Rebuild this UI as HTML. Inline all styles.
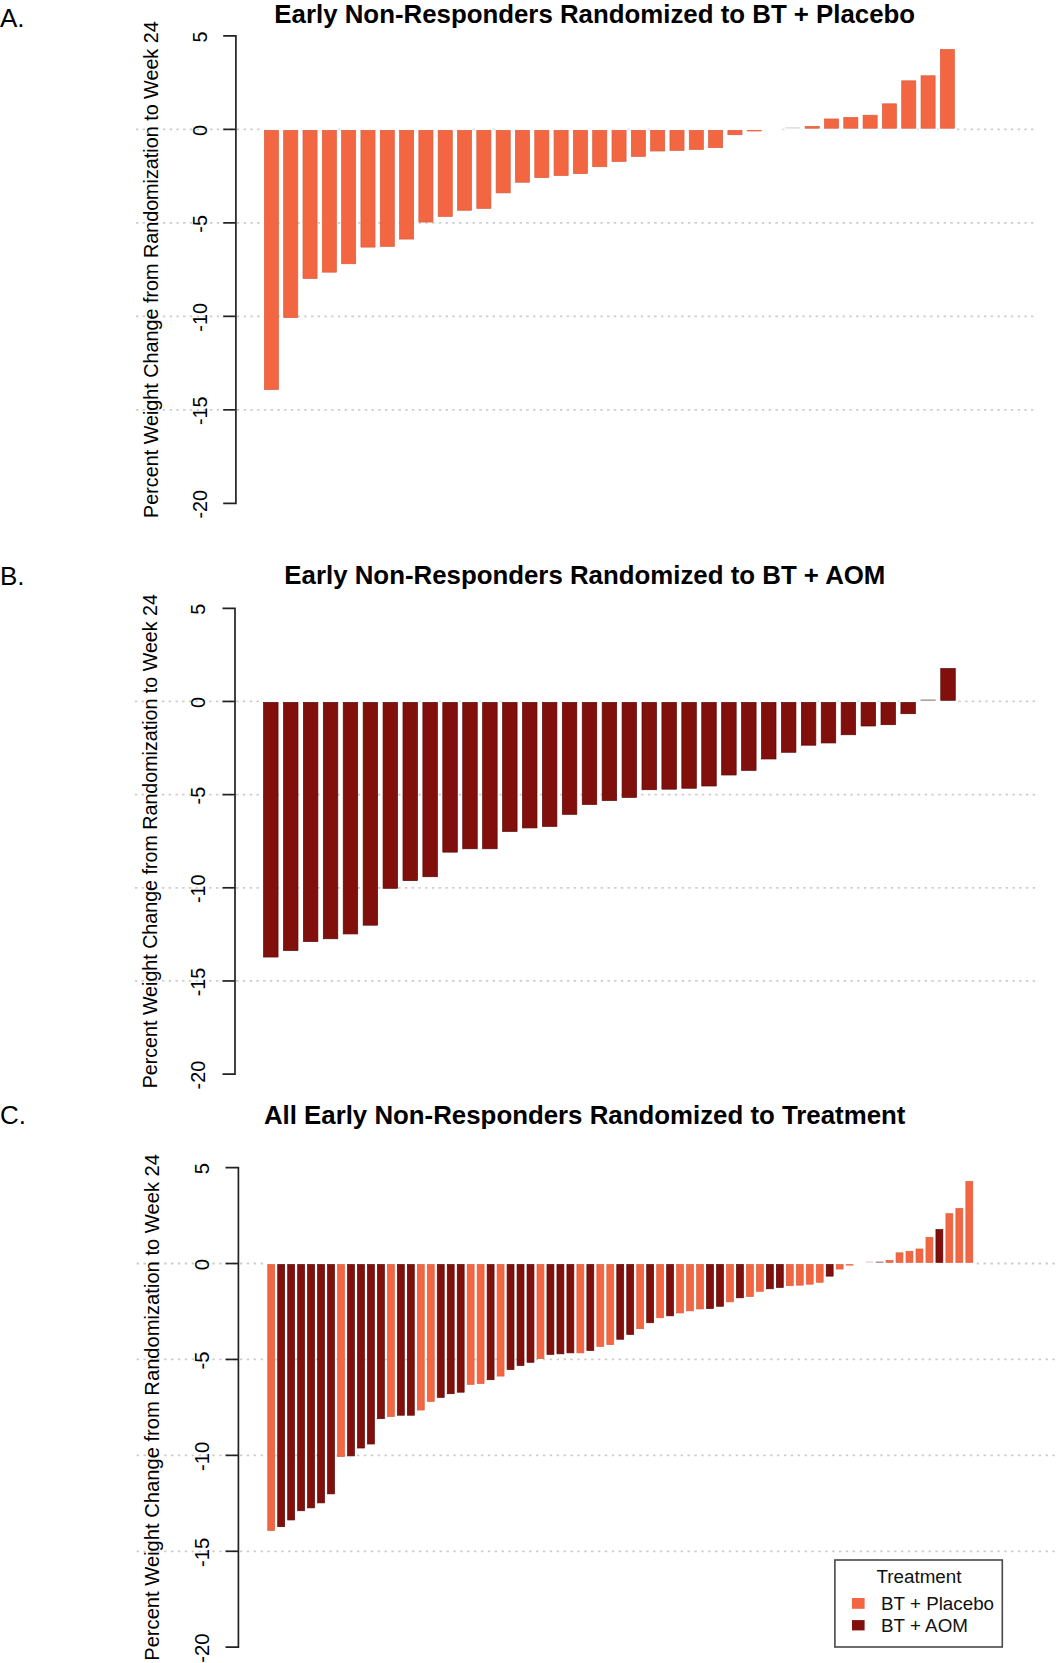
<!DOCTYPE html>
<html><head><meta charset="utf-8"><style>
html,body{margin:0;padding:0;background:#fff;}
svg{display:block;}
text{font-family:"Liberation Sans",sans-serif;fill:#000;}
.title{font-weight:bold;font-size:25.84px;}
.plabel{font-size:26px;}
.tl{font-size:19.8px;}
.yl{font-size:19.75px;}
.leg{font-size:18.8px;fill:#111;}
.grid{stroke:#cdcdcd;stroke-width:1.8;fill:none;}
.gridf{stroke:#e4e4e4;stroke-width:1.8;fill:none;}
.axis{stroke:#222;stroke-width:1.7;fill:none;}
</style></head><body>
<svg width="1057" height="1663" viewBox="0 0 1057 1663">
<rect width="1057" height="1663" fill="#fff"/>
<path d="M136.00 129.38h2.4M142.73 129.38h2.4M149.46 129.38h2.4M156.19 129.38h2.4M162.92 129.38h2.4M169.65 129.38h2.4M176.38 129.38h2.4M183.11 129.38h2.4M189.84 129.38h2.4M196.57 129.38h2.4M203.30 129.38h2.4M210.03 129.38h2.4M216.76 129.38h2.4M223.49 129.38h2.4M230.22 129.38h2.4M236.95 129.38h2.4M243.68 129.38h2.4M250.41 129.38h2.4M257.14 129.38h2.4M957.06 129.38h2.4M963.79 129.38h2.4M970.52 129.38h2.4M977.25 129.38h2.4M983.98 129.38h2.4M990.71 129.38h2.4M997.44 129.38h2.4M1004.17 129.38h2.4M1010.90 129.38h2.4M1017.63 129.38h2.4M1024.36 129.38h2.4M1031.09 129.38h2.4" class="grid"/>
<path d="M337.90 129.38h2.4M472.50 129.38h2.4M492.69 129.38h2.4M627.29 129.38h2.4M647.48 129.38h2.4M782.08 129.38h2.4M916.68 129.38h2.4M936.87 129.38h2.4" class="gridf"/>
<line x1="136.00" y1="222.86" x2="1033.49" y2="222.86" class="grid" stroke-dasharray="2.4 4.330"/>
<line x1="136.00" y1="316.34" x2="1033.49" y2="316.34" class="grid" stroke-dasharray="2.4 4.330"/>
<line x1="136.00" y1="409.82" x2="1033.49" y2="409.82" class="grid" stroke-dasharray="2.4 4.330"/>
<rect x="264.35" y="130.33" width="14.10" height="259.25" fill="#F26642" stroke="#dc5e40" stroke-width="0.7"/>
<rect x="283.66" y="130.33" width="14.10" height="187.27" fill="#F26642" stroke="#dc5e40" stroke-width="0.7"/>
<rect x="302.98" y="130.33" width="14.10" height="148.19" fill="#F26642" stroke="#dc5e40" stroke-width="0.7"/>
<rect x="322.29" y="130.33" width="14.10" height="141.84" fill="#F26642" stroke="#dc5e40" stroke-width="0.7"/>
<rect x="341.61" y="130.33" width="14.10" height="133.42" fill="#F26642" stroke="#dc5e40" stroke-width="0.7"/>
<rect x="360.92" y="130.33" width="14.10" height="116.78" fill="#F26642" stroke="#dc5e40" stroke-width="0.7"/>
<rect x="380.23" y="130.33" width="14.10" height="116.04" fill="#F26642" stroke="#dc5e40" stroke-width="0.7"/>
<rect x="399.55" y="130.33" width="14.10" height="108.75" fill="#F26642" stroke="#dc5e40" stroke-width="0.7"/>
<rect x="418.86" y="130.33" width="14.10" height="91.73" fill="#F26642" stroke="#dc5e40" stroke-width="0.7"/>
<rect x="438.18" y="130.33" width="14.10" height="86.12" fill="#F26642" stroke="#dc5e40" stroke-width="0.7"/>
<rect x="457.49" y="130.33" width="14.10" height="79.95" fill="#F26642" stroke="#dc5e40" stroke-width="0.7"/>
<rect x="476.80" y="130.33" width="14.10" height="78.08" fill="#F26642" stroke="#dc5e40" stroke-width="0.7"/>
<rect x="496.12" y="130.33" width="14.10" height="62.57" fill="#F26642" stroke="#dc5e40" stroke-width="0.7"/>
<rect x="515.43" y="130.33" width="14.10" height="51.91" fill="#F26642" stroke="#dc5e40" stroke-width="0.7"/>
<rect x="534.75" y="130.33" width="14.10" height="47.24" fill="#F26642" stroke="#dc5e40" stroke-width="0.7"/>
<rect x="554.06" y="130.33" width="14.10" height="45.18" fill="#F26642" stroke="#dc5e40" stroke-width="0.7"/>
<rect x="573.37" y="130.33" width="14.10" height="43.31" fill="#F26642" stroke="#dc5e40" stroke-width="0.7"/>
<rect x="592.69" y="130.33" width="14.10" height="36.39" fill="#F26642" stroke="#dc5e40" stroke-width="0.7"/>
<rect x="612.00" y="130.33" width="14.10" height="31.16" fill="#F26642" stroke="#dc5e40" stroke-width="0.7"/>
<rect x="631.32" y="130.33" width="14.10" height="26.11" fill="#F26642" stroke="#dc5e40" stroke-width="0.7"/>
<rect x="650.63" y="130.33" width="14.10" height="20.69" fill="#F26642" stroke="#dc5e40" stroke-width="0.7"/>
<rect x="669.94" y="130.33" width="14.10" height="20.13" fill="#F26642" stroke="#dc5e40" stroke-width="0.7"/>
<rect x="689.26" y="130.33" width="14.10" height="19.19" fill="#F26642" stroke="#dc5e40" stroke-width="0.7"/>
<rect x="708.57" y="130.33" width="14.10" height="17.32" fill="#F26642" stroke="#dc5e40" stroke-width="0.7"/>
<rect x="727.89" y="130.33" width="14.10" height="4.42" fill="#F26642" stroke="#dc5e40" stroke-width="0.7"/>
<rect x="746.85" y="129.98" width="14.80" height="1.38" fill="#F26642"/>
<rect x="785.48" y="127.38" width="14.80" height="1.1" fill="#d9cdcb"/>
<rect x="805.14" y="126.44" width="14.10" height="1.79" fill="#F26642" stroke="#dc5e40" stroke-width="0.7"/>
<rect x="824.46" y="118.96" width="14.10" height="9.27" fill="#F26642" stroke="#dc5e40" stroke-width="0.7"/>
<rect x="843.77" y="117.46" width="14.10" height="10.77" fill="#F26642" stroke="#dc5e40" stroke-width="0.7"/>
<rect x="863.08" y="115.22" width="14.10" height="13.01" fill="#F26642" stroke="#dc5e40" stroke-width="0.7"/>
<rect x="882.40" y="103.82" width="14.10" height="24.41" fill="#F26642" stroke="#dc5e40" stroke-width="0.7"/>
<rect x="901.71" y="80.82" width="14.10" height="47.41" fill="#F26642" stroke="#dc5e40" stroke-width="0.7"/>
<rect x="921.03" y="75.77" width="14.10" height="52.46" fill="#F26642" stroke="#dc5e40" stroke-width="0.7"/>
<rect x="940.34" y="49.41" width="14.10" height="78.82" fill="#F26642" stroke="#dc5e40" stroke-width="0.7"/>
<path d="M223.20 35.90H235.90V503.30H223.20" class="axis"/>
<line x1="223.20" y1="129.38" x2="235.90" y2="129.38" class="axis"/>
<line x1="223.20" y1="222.86" x2="235.90" y2="222.86" class="axis"/>
<line x1="223.20" y1="316.34" x2="235.90" y2="316.34" class="axis"/>
<line x1="223.20" y1="409.82" x2="235.90" y2="409.82" class="axis"/>
<text transform="translate(206.60,36.90) rotate(-90)" class="tl" text-anchor="middle" style="font-size:19.8px">5</text>
<text transform="translate(206.60,130.38) rotate(-90)" class="tl" text-anchor="middle" style="font-size:19.8px">0</text>
<text transform="translate(206.60,223.86) rotate(-90)" class="tl" text-anchor="middle" style="font-size:19.8px">-5</text>
<text transform="translate(206.60,317.34) rotate(-90)" class="tl" text-anchor="middle" style="font-size:19.8px">-10</text>
<text transform="translate(206.60,410.82) rotate(-90)" class="tl" text-anchor="middle" style="font-size:19.8px">-15</text>
<text transform="translate(206.60,504.30) rotate(-90)" class="tl" text-anchor="middle" style="font-size:19.8px">-20</text>
<text transform="translate(158.00,269.60) rotate(-90)" class="yl" text-anchor="middle" style="font-size:19.75px">Percent Weight Change from Randomization to Week 24</text>
<text x="274.35" y="23.00" class="title">Early Non-Responders Randomized to BT + Placebo</text>
<text x="0.00" y="27.40" class="plabel">A.</text>
<path d="M134.90 701.46h2.4M141.65 701.46h2.4M148.40 701.46h2.4M155.15 701.46h2.4M161.90 701.46h2.4M168.65 701.46h2.4M175.40 701.46h2.4M182.15 701.46h2.4M188.90 701.46h2.4M195.65 701.46h2.4M202.40 701.46h2.4M209.15 701.46h2.4M215.90 701.46h2.4M222.65 701.46h2.4M229.40 701.46h2.4M236.15 701.46h2.4M242.90 701.46h2.4M249.65 701.46h2.4M256.40 701.46h2.4M958.40 701.46h2.4M965.15 701.46h2.4M971.90 701.46h2.4M978.65 701.46h2.4M985.40 701.46h2.4M992.15 701.46h2.4M998.90 701.46h2.4M1005.65 701.46h2.4M1012.40 701.46h2.4M1019.15 701.46h2.4M1025.90 701.46h2.4M1032.65 701.46h2.4" class="grid"/>
<path d="M418.40 701.46h2.4M438.65 701.46h2.4M458.90 701.46h2.4M479.15 701.46h2.4M499.40 701.46h2.4M816.65 701.46h2.4M836.90 701.46h2.4M857.15 701.46h2.4M877.40 701.46h2.4M897.65 701.46h2.4" class="gridf"/>
<line x1="134.90" y1="794.62" x2="1035.05" y2="794.62" class="grid" stroke-dasharray="2.4 4.350"/>
<line x1="134.90" y1="887.78" x2="1035.05" y2="887.78" class="grid" stroke-dasharray="2.4 4.350"/>
<line x1="134.90" y1="980.94" x2="1035.05" y2="980.94" class="grid" stroke-dasharray="2.4 4.350"/>
<rect x="263.55" y="702.41" width="14.50" height="254.63" fill="#810F0C" stroke="#5a0907" stroke-width="0.7"/>
<rect x="283.47" y="702.41" width="14.50" height="248.11" fill="#810F0C" stroke="#5a0907" stroke-width="0.7"/>
<rect x="303.39" y="702.41" width="14.50" height="239.17" fill="#810F0C" stroke="#5a0907" stroke-width="0.7"/>
<rect x="323.30" y="702.41" width="14.50" height="236.37" fill="#810F0C" stroke="#5a0907" stroke-width="0.7"/>
<rect x="343.22" y="702.41" width="14.50" height="231.53" fill="#810F0C" stroke="#5a0907" stroke-width="0.7"/>
<rect x="363.14" y="702.41" width="14.50" height="222.77" fill="#810F0C" stroke="#5a0907" stroke-width="0.7"/>
<rect x="383.06" y="702.41" width="14.50" height="185.88" fill="#810F0C" stroke="#5a0907" stroke-width="0.7"/>
<rect x="402.98" y="702.41" width="14.50" height="178.24" fill="#810F0C" stroke="#5a0907" stroke-width="0.7"/>
<rect x="422.89" y="702.41" width="14.50" height="174.33" fill="#810F0C" stroke="#5a0907" stroke-width="0.7"/>
<rect x="442.81" y="702.41" width="14.50" height="149.73" fill="#810F0C" stroke="#5a0907" stroke-width="0.7"/>
<rect x="462.73" y="702.41" width="14.50" height="146.38" fill="#810F0C" stroke="#5a0907" stroke-width="0.7"/>
<rect x="482.65" y="702.41" width="14.50" height="146.38" fill="#810F0C" stroke="#5a0907" stroke-width="0.7"/>
<rect x="502.57" y="702.41" width="14.50" height="129.05" fill="#810F0C" stroke="#5a0907" stroke-width="0.7"/>
<rect x="522.48" y="702.41" width="14.50" height="125.51" fill="#810F0C" stroke="#5a0907" stroke-width="0.7"/>
<rect x="542.40" y="702.41" width="14.50" height="124.02" fill="#810F0C" stroke="#5a0907" stroke-width="0.7"/>
<rect x="562.32" y="702.41" width="14.50" height="111.91" fill="#810F0C" stroke="#5a0907" stroke-width="0.7"/>
<rect x="582.24" y="702.41" width="14.50" height="102.03" fill="#810F0C" stroke="#5a0907" stroke-width="0.7"/>
<rect x="602.16" y="702.41" width="14.50" height="98.12" fill="#810F0C" stroke="#5a0907" stroke-width="0.7"/>
<rect x="622.07" y="702.41" width="14.50" height="94.95" fill="#810F0C" stroke="#5a0907" stroke-width="0.7"/>
<rect x="641.99" y="702.41" width="14.50" height="87.32" fill="#810F0C" stroke="#5a0907" stroke-width="0.7"/>
<rect x="661.91" y="702.41" width="14.50" height="86.76" fill="#810F0C" stroke="#5a0907" stroke-width="0.7"/>
<rect x="681.83" y="702.41" width="14.50" height="85.83" fill="#810F0C" stroke="#5a0907" stroke-width="0.7"/>
<rect x="701.75" y="702.41" width="14.50" height="83.59" fill="#810F0C" stroke="#5a0907" stroke-width="0.7"/>
<rect x="721.66" y="702.41" width="14.50" height="72.60" fill="#810F0C" stroke="#5a0907" stroke-width="0.7"/>
<rect x="741.58" y="702.41" width="14.50" height="67.94" fill="#810F0C" stroke="#5a0907" stroke-width="0.7"/>
<rect x="761.50" y="702.41" width="14.50" height="56.57" fill="#810F0C" stroke="#5a0907" stroke-width="0.7"/>
<rect x="781.42" y="702.41" width="14.50" height="49.87" fill="#810F0C" stroke="#5a0907" stroke-width="0.7"/>
<rect x="801.34" y="702.41" width="14.50" height="42.79" fill="#810F0C" stroke="#5a0907" stroke-width="0.7"/>
<rect x="821.25" y="702.41" width="14.50" height="40.55" fill="#810F0C" stroke="#5a0907" stroke-width="0.7"/>
<rect x="841.17" y="702.41" width="14.50" height="32.35" fill="#810F0C" stroke="#5a0907" stroke-width="0.7"/>
<rect x="861.09" y="702.41" width="14.50" height="23.59" fill="#810F0C" stroke="#5a0907" stroke-width="0.7"/>
<rect x="881.01" y="702.41" width="14.50" height="22.29" fill="#810F0C" stroke="#5a0907" stroke-width="0.7"/>
<rect x="900.93" y="702.41" width="14.50" height="11.30" fill="#810F0C" stroke="#5a0907" stroke-width="0.7"/>
<rect x="920.49" y="699.56" width="15.20" height="1.1" fill="#8a7474"/>
<rect x="940.76" y="668.53" width="14.50" height="31.78" fill="#810F0C" stroke="#5a0907" stroke-width="0.7"/>
<path d="M222.50 608.30H235.00V1074.10H222.50" class="axis"/>
<line x1="222.50" y1="701.46" x2="235.00" y2="701.46" class="axis"/>
<line x1="222.50" y1="794.62" x2="235.00" y2="794.62" class="axis"/>
<line x1="222.50" y1="887.78" x2="235.00" y2="887.78" class="axis"/>
<line x1="222.50" y1="980.94" x2="235.00" y2="980.94" class="axis"/>
<text transform="translate(205.20,609.30) rotate(-90)" class="tl" text-anchor="middle" style="font-size:19.8px">5</text>
<text transform="translate(205.20,702.46) rotate(-90)" class="tl" text-anchor="middle" style="font-size:19.8px">0</text>
<text transform="translate(205.20,795.62) rotate(-90)" class="tl" text-anchor="middle" style="font-size:19.8px">-5</text>
<text transform="translate(205.20,888.78) rotate(-90)" class="tl" text-anchor="middle" style="font-size:19.8px">-10</text>
<text transform="translate(205.20,981.94) rotate(-90)" class="tl" text-anchor="middle" style="font-size:19.8px">-15</text>
<text transform="translate(205.20,1075.10) rotate(-90)" class="tl" text-anchor="middle" style="font-size:19.8px">-20</text>
<text transform="translate(157.40,841.20) rotate(-90)" class="yl" text-anchor="middle" style="font-size:19.67px">Percent Weight Change from Randomization to Week 24</text>
<text x="284.35" y="584.10" class="title">Early Non-Responders Randomized to BT + AOM</text>
<text x="0.00" y="585.40" class="plabel">B.</text>
<path d="M136.60 1263.52h2.4M143.49 1263.52h2.4M150.37 1263.52h2.4M157.26 1263.52h2.4M164.14 1263.52h2.4M171.03 1263.52h2.4M177.92 1263.52h2.4M184.80 1263.52h2.4M191.69 1263.52h2.4M198.57 1263.52h2.4M205.46 1263.52h2.4M212.35 1263.52h2.4M219.23 1263.52h2.4M226.12 1263.52h2.4M233.00 1263.52h2.4M239.89 1263.52h2.4M246.78 1263.52h2.4M253.66 1263.52h2.4M260.55 1263.52h2.4M976.69 1263.52h2.4M983.58 1263.52h2.4M990.46 1263.52h2.4M997.35 1263.52h2.4M1004.24 1263.52h2.4M1011.12 1263.52h2.4M1018.01 1263.52h2.4M1024.89 1263.52h2.4M1031.78 1263.52h2.4M1038.67 1263.52h2.4M1045.55 1263.52h2.4M1052.44 1263.52h2.4" class="grid"/>
<line x1="136.60" y1="1359.44" x2="1054.84" y2="1359.44" class="grid" stroke-dasharray="2.4 4.486"/>
<line x1="136.60" y1="1455.36" x2="1054.84" y2="1455.36" class="grid" stroke-dasharray="2.4 4.486"/>
<line x1="136.60" y1="1551.28" x2="1054.84" y2="1551.28" class="grid" stroke-dasharray="2.4 4.486"/>
<rect x="267.75" y="1264.47" width="6.90" height="266.04" fill="#F26642" stroke="#dc5e40" stroke-width="0.7"/>
<rect x="277.72" y="1264.47" width="6.90" height="262.20" fill="#810F0C" stroke="#5a0907" stroke-width="0.7"/>
<rect x="287.70" y="1264.47" width="6.90" height="255.49" fill="#810F0C" stroke="#5a0907" stroke-width="0.7"/>
<rect x="297.67" y="1264.47" width="6.90" height="246.28" fill="#810F0C" stroke="#5a0907" stroke-width="0.7"/>
<rect x="307.64" y="1264.47" width="6.90" height="243.40" fill="#810F0C" stroke="#5a0907" stroke-width="0.7"/>
<rect x="317.62" y="1264.47" width="6.90" height="238.42" fill="#810F0C" stroke="#5a0907" stroke-width="0.7"/>
<rect x="327.59" y="1264.47" width="6.90" height="229.40" fill="#810F0C" stroke="#5a0907" stroke-width="0.7"/>
<rect x="337.56" y="1264.47" width="6.90" height="192.18" fill="#F26642" stroke="#dc5e40" stroke-width="0.7"/>
<rect x="347.53" y="1264.47" width="6.90" height="191.42" fill="#810F0C" stroke="#5a0907" stroke-width="0.7"/>
<rect x="357.51" y="1264.47" width="6.90" height="183.55" fill="#810F0C" stroke="#5a0907" stroke-width="0.7"/>
<rect x="367.48" y="1264.47" width="6.90" height="179.52" fill="#810F0C" stroke="#5a0907" stroke-width="0.7"/>
<rect x="377.45" y="1264.47" width="6.90" height="154.20" fill="#810F0C" stroke="#5a0907" stroke-width="0.7"/>
<rect x="387.43" y="1264.47" width="6.90" height="152.09" fill="#F26642" stroke="#dc5e40" stroke-width="0.7"/>
<rect x="397.40" y="1264.47" width="6.90" height="150.75" fill="#810F0C" stroke="#5a0907" stroke-width="0.7"/>
<rect x="407.37" y="1264.47" width="6.90" height="150.75" fill="#810F0C" stroke="#5a0907" stroke-width="0.7"/>
<rect x="417.35" y="1264.47" width="6.90" height="145.57" fill="#F26642" stroke="#dc5e40" stroke-width="0.7"/>
<rect x="427.32" y="1264.47" width="6.90" height="136.93" fill="#F26642" stroke="#dc5e40" stroke-width="0.7"/>
<rect x="437.29" y="1264.47" width="6.90" height="132.90" fill="#810F0C" stroke="#5a0907" stroke-width="0.7"/>
<rect x="447.26" y="1264.47" width="6.90" height="129.26" fill="#810F0C" stroke="#5a0907" stroke-width="0.7"/>
<rect x="457.24" y="1264.47" width="6.90" height="127.72" fill="#810F0C" stroke="#5a0907" stroke-width="0.7"/>
<rect x="467.21" y="1264.47" width="6.90" height="119.86" fill="#F26642" stroke="#dc5e40" stroke-width="0.7"/>
<rect x="477.18" y="1264.47" width="6.90" height="119.09" fill="#F26642" stroke="#dc5e40" stroke-width="0.7"/>
<rect x="487.16" y="1264.47" width="6.90" height="115.26" fill="#810F0C" stroke="#5a0907" stroke-width="0.7"/>
<rect x="497.13" y="1264.47" width="6.90" height="111.61" fill="#F26642" stroke="#dc5e40" stroke-width="0.7"/>
<rect x="507.10" y="1264.47" width="6.90" height="105.09" fill="#810F0C" stroke="#5a0907" stroke-width="0.7"/>
<rect x="517.08" y="1264.47" width="6.90" height="101.06" fill="#810F0C" stroke="#5a0907" stroke-width="0.7"/>
<rect x="527.05" y="1264.47" width="6.90" height="97.80" fill="#810F0C" stroke="#5a0907" stroke-width="0.7"/>
<rect x="537.02" y="1264.47" width="6.90" height="94.15" fill="#F26642" stroke="#dc5e40" stroke-width="0.7"/>
<rect x="546.99" y="1264.47" width="6.90" height="89.93" fill="#810F0C" stroke="#5a0907" stroke-width="0.7"/>
<rect x="556.97" y="1264.47" width="6.90" height="89.36" fill="#810F0C" stroke="#5a0907" stroke-width="0.7"/>
<rect x="566.94" y="1264.47" width="6.90" height="88.40" fill="#810F0C" stroke="#5a0907" stroke-width="0.7"/>
<rect x="576.91" y="1264.47" width="6.90" height="88.40" fill="#F26642" stroke="#dc5e40" stroke-width="0.7"/>
<rect x="586.89" y="1264.47" width="6.90" height="86.10" fill="#810F0C" stroke="#5a0907" stroke-width="0.7"/>
<rect x="596.86" y="1264.47" width="6.90" height="82.07" fill="#F26642" stroke="#dc5e40" stroke-width="0.7"/>
<rect x="606.83" y="1264.47" width="6.90" height="80.15" fill="#F26642" stroke="#dc5e40" stroke-width="0.7"/>
<rect x="616.80" y="1264.47" width="6.90" height="74.78" fill="#810F0C" stroke="#5a0907" stroke-width="0.7"/>
<rect x="626.78" y="1264.47" width="6.90" height="69.98" fill="#810F0C" stroke="#5a0907" stroke-width="0.7"/>
<rect x="636.75" y="1264.47" width="6.90" height="64.23" fill="#F26642" stroke="#dc5e40" stroke-width="0.7"/>
<rect x="646.72" y="1264.47" width="6.90" height="58.28" fill="#810F0C" stroke="#5a0907" stroke-width="0.7"/>
<rect x="656.70" y="1264.47" width="6.90" height="53.29" fill="#F26642" stroke="#dc5e40" stroke-width="0.7"/>
<rect x="666.67" y="1264.47" width="6.90" height="51.37" fill="#810F0C" stroke="#5a0907" stroke-width="0.7"/>
<rect x="676.64" y="1264.47" width="6.90" height="48.49" fill="#F26642" stroke="#dc5e40" stroke-width="0.7"/>
<rect x="686.62" y="1264.47" width="6.90" height="46.38" fill="#F26642" stroke="#dc5e40" stroke-width="0.7"/>
<rect x="696.59" y="1264.47" width="6.90" height="44.47" fill="#F26642" stroke="#dc5e40" stroke-width="0.7"/>
<rect x="706.56" y="1264.47" width="6.90" height="44.08" fill="#810F0C" stroke="#5a0907" stroke-width="0.7"/>
<rect x="716.53" y="1264.47" width="6.90" height="41.78" fill="#810F0C" stroke="#5a0907" stroke-width="0.7"/>
<rect x="726.51" y="1264.47" width="6.90" height="37.37" fill="#F26642" stroke="#dc5e40" stroke-width="0.7"/>
<rect x="736.48" y="1264.47" width="6.90" height="33.34" fill="#810F0C" stroke="#5a0907" stroke-width="0.7"/>
<rect x="746.45" y="1264.47" width="6.90" height="32.00" fill="#F26642" stroke="#dc5e40" stroke-width="0.7"/>
<rect x="756.43" y="1264.47" width="6.90" height="26.82" fill="#F26642" stroke="#dc5e40" stroke-width="0.7"/>
<rect x="766.40" y="1264.47" width="6.90" height="24.32" fill="#810F0C" stroke="#5a0907" stroke-width="0.7"/>
<rect x="776.37" y="1264.47" width="6.90" height="22.98" fill="#810F0C" stroke="#5a0907" stroke-width="0.7"/>
<rect x="786.35" y="1264.47" width="6.90" height="21.25" fill="#F26642" stroke="#dc5e40" stroke-width="0.7"/>
<rect x="796.32" y="1264.47" width="6.90" height="20.68" fill="#F26642" stroke="#dc5e40" stroke-width="0.7"/>
<rect x="806.29" y="1264.47" width="6.90" height="19.72" fill="#F26642" stroke="#dc5e40" stroke-width="0.7"/>
<rect x="816.26" y="1264.47" width="6.90" height="17.80" fill="#F26642" stroke="#dc5e40" stroke-width="0.7"/>
<rect x="826.24" y="1264.47" width="6.90" height="11.66" fill="#810F0C" stroke="#5a0907" stroke-width="0.7"/>
<rect x="836.21" y="1264.47" width="6.90" height="4.56" fill="#F26642" stroke="#dc5e40" stroke-width="0.7"/>
<rect x="845.83" y="1264.12" width="7.60" height="1.43" fill="#F26642"/>
<rect x="865.78" y="1261.52" width="7.60" height="1.1" fill="#d9cdcb"/>
<rect x="875.75" y="1261.62" width="7.60" height="1.1" fill="#8a7474"/>
<rect x="886.08" y="1260.50" width="6.90" height="1.87" fill="#F26642" stroke="#dc5e40" stroke-width="0.7"/>
<rect x="896.05" y="1252.83" width="6.90" height="9.54" fill="#F26642" stroke="#dc5e40" stroke-width="0.7"/>
<rect x="906.02" y="1251.29" width="6.90" height="11.08" fill="#F26642" stroke="#dc5e40" stroke-width="0.7"/>
<rect x="916.00" y="1248.99" width="6.90" height="13.38" fill="#F26642" stroke="#dc5e40" stroke-width="0.7"/>
<rect x="925.97" y="1237.29" width="6.90" height="25.08" fill="#F26642" stroke="#dc5e40" stroke-width="0.7"/>
<rect x="935.94" y="1229.61" width="6.90" height="32.76" fill="#810F0C" stroke="#5a0907" stroke-width="0.7"/>
<rect x="945.91" y="1213.69" width="6.90" height="48.68" fill="#F26642" stroke="#dc5e40" stroke-width="0.7"/>
<rect x="955.89" y="1208.51" width="6.90" height="53.86" fill="#F26642" stroke="#dc5e40" stroke-width="0.7"/>
<rect x="965.86" y="1181.46" width="6.90" height="80.91" fill="#F26642" stroke="#dc5e40" stroke-width="0.7"/>
<path d="M225.50 1167.60H238.40V1647.20H225.50" class="axis"/>
<line x1="225.50" y1="1263.52" x2="238.40" y2="1263.52" class="axis"/>
<line x1="225.50" y1="1359.44" x2="238.40" y2="1359.44" class="axis"/>
<line x1="225.50" y1="1455.36" x2="238.40" y2="1455.36" class="axis"/>
<line x1="225.50" y1="1551.28" x2="238.40" y2="1551.28" class="axis"/>
<text transform="translate(208.90,1168.60) rotate(-90)" class="tl" text-anchor="middle" style="font-size:20.25px">5</text>
<text transform="translate(208.90,1264.52) rotate(-90)" class="tl" text-anchor="middle" style="font-size:20.25px">0</text>
<text transform="translate(208.90,1360.44) rotate(-90)" class="tl" text-anchor="middle" style="font-size:20.25px">-5</text>
<text transform="translate(208.90,1456.36) rotate(-90)" class="tl" text-anchor="middle" style="font-size:20.25px">-10</text>
<text transform="translate(208.90,1552.28) rotate(-90)" class="tl" text-anchor="middle" style="font-size:20.25px">-15</text>
<text transform="translate(208.90,1648.20) rotate(-90)" class="tl" text-anchor="middle" style="font-size:20.25px">-20</text>
<text transform="translate(159.00,1407.40) rotate(-90)" class="yl" text-anchor="middle" style="font-size:20.17px">Percent Weight Change from Randomization to Week 24</text>
<text x="263.88" y="1123.50" class="title">All Early Non-Responders Randomized to Treatment</text>
<text x="0.00" y="1123.50" class="plabel">C.</text>

<rect x="834.9" y="1560.0" width="167.4" height="87.0" fill="none" stroke="#484848" stroke-width="1.6"/>
<text x="919.0" y="1582.7" class="leg" text-anchor="middle">Treatment</text>
<rect x="852" y="1598" width="12.6" height="10.8" fill="#F26642"/>
<rect x="852" y="1620.1" width="12.6" height="10.3" fill="#810F0C"/>
<text x="881.10" y="1610.2" class="leg">BT + Placebo</text>
<text x="881.10" y="1631.5" class="leg">BT + AOM</text>

</svg>
</body></html>
